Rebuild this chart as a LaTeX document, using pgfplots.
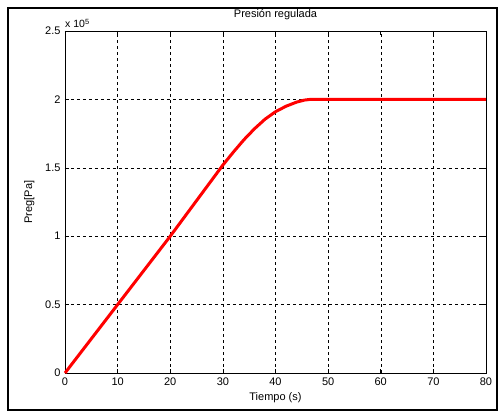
\documentclass[border=0pt]{standalone}
\usepackage{fontspec}
\setmainfont{Liberation Sans}
\usepackage{pgfplots}
\pgfplotsset{compat=1.18}

\begin{document}
\begin{tikzpicture}
\begin{axis}[
  name=ax, anchor=origin, at={(0pt,0pt)},
  scale only axis, width=421pt, height=342pt,
  xmin=0, xmax=80, ymin=0, ymax=250000,
  xtick={0,10,...,80},
  ytick={0,50000,100000,150000,200000,250000},
  yticklabels={0,0.5,1,1.5,2,2.5},
  scaled y ticks=false,
  /pgf/number format/assume math mode=true,
  tick label style={font=\fontsize{11}{13}\selectfont, black},
  xticklabel style={yshift=-1pt},
  yticklabel style={xshift=-1pt},
  grid=major,
  major grid style={dashed, black, line width=0.4pt},
  tick align=inside, major tick length=4pt,
  tick style={black, line width=0.5pt},
  axis line style={black, line width=0.6pt},
  ylabel={Preg[Pa]},
  ylabel style={at={(axis description cs:-0.085,0.5)}, anchor=center, font=\fontsize{11}{13}\selectfont},
  clip=false,
]
\addplot[red, line width=3pt, line join=round] coordinates {
  (0,0) (5,25000) (10,50000) (15,75000) (20,100000) (22.5,113000)
  (25,126000) (27.5,139000) (30,152000) (32,161500) (34,170500)
  (36,178500) (38,185500) (40,191000) (42,195000) (44,198000)
  (45.5,199500) (46.6,200000) (80,200000)
};
\node[anchor=south west, inner sep=0pt, font=\fontsize{10.5}{12}\selectfont]
  at (axis description cs:0,1) [yshift=3pt] {x 10\raisebox{0.6ex}{\fontsize{7.5}{8}\selectfont 5}};
\node[font=\fontsize{11}{13}\selectfont] at (axis description cs:0.5,1.047) {Presión regulada};
\node[font=\fontsize{11}{13}\selectfont] at (axis description cs:0.5,-0.072) {Tiempo (s)};
\end{axis}
\draw[line width=2pt] (-57pt,-37pt) rectangle (432pt,365pt);
\path (-65pt,-39pt) rectangle (434pt,373pt);
\end{tikzpicture}
\end{document}
